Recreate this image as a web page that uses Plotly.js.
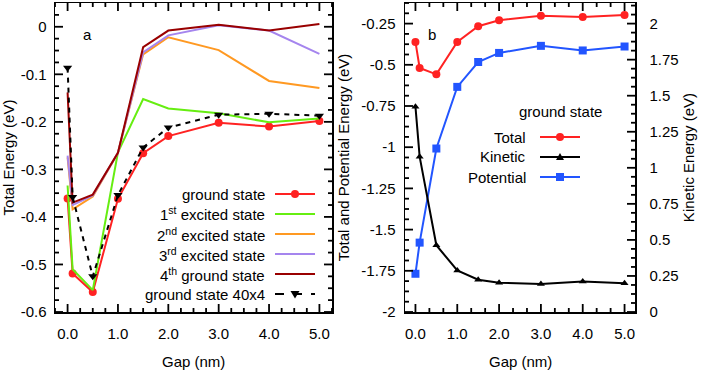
<!DOCTYPE html>
<html>
<head>
<meta charset="utf-8">
<script src="https://cdn.plot.ly/plotly-3.0.1.min.js"></script>
<style>
  html, body { margin: 0; padding: 0; background: #fff; }
  #plot { width: 702px; height: 371px; }
</style>
</head>
<body>
<div id="plot"></div>
<script>
// gap values (nm) shared by every series
const gap = [0, 0.1, 0.5, 1, 1.5, 2, 3, 4, 5];

// panel a: total energy (eV)
const groundState = [-0.361, -0.519, -0.558, -0.362, -0.266, -0.230, -0.202, -0.210, -0.198];
const excited1 = [-0.334, -0.510, -0.554, -0.264, -0.152, -0.172, -0.182, -0.201, -0.193];
const excited2 = [-0.275, -0.384, -0.357, -0.265, -0.058, -0.022, -0.049, -0.114, -0.129];
const excited3 = [-0.271, -0.375, -0.355, -0.265, -0.054, -0.018, 0.003, -0.008, -0.057];
const ground4th = [-0.138, -0.370, -0.353, -0.265, -0.043, -0.008, 0.004, -0.008, 0.006];
const ground40x4 = [-0.086, -0.358, -0.525, -0.354, -0.254, -0.212, -0.185, -0.183, -0.187];

// panel b: ground state split (eV)
const totalE = groundState;
const kineticE = [1.424, 1.077, 0.463, 0.288, 0.224, 0.203, 0.194, 0.212, 0.200];
const potentialE = [-1.768, -1.579, -1.008, -0.634, -0.483, -0.428, -0.385, -0.413, -0.389];

// tick labels
const xTicks = [0, 1, 2, 3, 4, 5];
const xTickText = ['0.0', '1.0', '2.0', '3.0', '4.0', '5.0'];
const yaTicks = [0, -0.1, -0.2, -0.3, -0.4, -0.5, -0.6];
const yaTickText = ['0', '-0.1', '-0.2', '-0.3', '-0.4', '-0.5', '-0.6'];
const ybTicks = [-0.25, -0.5, -0.75, -1, -1.25, -1.5, -1.75, -2];
const ybTickText = ['-0.25', '-0.5', '-0.75', '-1', '-1.25', '-1.5', '-1.75', '-2'];
const ykTicks = [0, 0.25, 0.5, 0.75, 1, 1.25, 1.5, 1.75, 2];
const ykTickText = ['0', '0.25', '0.5', '0.75', '1', '1.25', '1.5', '1.75', '2'];

const legendA = ['ground state', '1<sup>st</sup> excited state', '2<sup>nd</sup> excited state',
  '3<sup>rd</sup> excited state', '4<sup>th</sup> ground state', 'ground state 40x4'];
const legendB = ['Total', 'Kinetic', 'Potential'];

const RED = '#ff2222';
const GREEN = '#66ee11';
const ORANGE = '#ff9922';
const PURPLE = '#a585ee';
const MAROON = '#990000';
const BLUE = '#2255ff';

const FONT = 'Liberation Sans, Arial, sans-serif';
const W = 702;
const H = 371;

const seriesA = [
  { y: groundState, color: RED, dash: 'solid', symbol: 'circle', size: 8 },
  { y: excited1, color: GREEN, dash: 'solid', symbol: null, size: 0 },
  { y: excited2, color: ORANGE, dash: 'solid', symbol: null, size: 0 },
  { y: excited3, color: PURPLE, dash: 'solid', symbol: null, size: 0 },
  { y: ground4th, color: MAROON, dash: 'solid', symbol: null, size: 0 },
  { y: ground40x4, color: '#000', dash: '5px,5px', symbol: 'triangle-down', size: 8 }
];

const seriesB = [
  { y: totalE, color: RED, symbol: 'circle', size: 8, yaxis: 'y2' },
  { y: kineticE, color: '#000', symbol: 'triangle-up', size: 7, yaxis: 'y3' },
  { y: potentialE, color: BLUE, symbol: 'square', size: 8, yaxis: 'y2' }
];

const traces = [];
seriesA.forEach((s, i) => {
  traces.push({
    type: 'scatter',
    x: gap,
    y: s.y,
    xaxis: 'x',
    yaxis: 'y',
    mode: s.symbol ? 'lines+markers' : 'lines',
    name: legendA[i],
    line: { color: s.color, width: 2, dash: s.dash },
    marker: { symbol: s.symbol || 'circle', size: s.size, color: s.color },
    showlegend: false
  });
});
seriesB.forEach((s, i) => {
  traces.push({
    type: 'scatter',
    x: gap,
    y: s.y,
    xaxis: 'x2',
    yaxis: s.yaxis,
    mode: 'lines+markers',
    name: legendB[i],
    line: { color: s.color, width: 2 },
    marker: { symbol: s.symbol, size: s.size, color: s.color },
    showlegend: false
  });
});

// pixel positions -> paper fractions
const px = (v) => v / W;
const py = (v) => 1 - v / H;
const annotations = [];
const shapes = [];

// hand-made legends: text on the left, sample on the right
const markerPaths = {
  'triangle-down': 'M-4.5,3 L4.5,3 L0,-4.5 Z',
  'triangle-up': 'M-4,-3 L4,-3 L0,4 Z'
};
function legendRow (label, s, textRight, sampleLeft, sampleRight, rowY) {
  const mid = (sampleLeft + sampleRight) / 2;
  shapes.push({
    type: 'line', xref: 'paper', yref: 'paper',
    x0: px(sampleLeft), x1: px(sampleRight), y0: py(rowY), y1: py(rowY),
    line: { color: s.color, width: 2, dash: s.dash === 'solid' || !s.dash ? 'solid' : 'dash' }
  });
  if (s.symbol) {
    const base = {
      xref: 'paper', yref: 'paper', xsizemode: 'pixel', ysizemode: 'pixel',
      xanchor: px(mid), yanchor: py(rowY), fillcolor: s.color, line: { width: 0 }
    };
    if (s.symbol === 'circle') {
      shapes.push(Object.assign({ type: 'circle', x0: -4, x1: 4, y0: -4, y1: 4 }, base));
    } else if (s.symbol === 'square') {
      shapes.push(Object.assign({ type: 'rect', x0: -4, x1: 4, y0: -4, y1: 4 }, base));
    } else {
      shapes.push(Object.assign({ type: 'path', path: markerPaths[s.symbol] }, base));
    }
  }
  annotations.push({
    xref: 'paper', yref: 'paper', x: px(textRight), y: py(rowY),
    xanchor: 'right', yanchor: 'middle', showarrow: false,
    text: label, font: { family: FONT, size: 15, color: '#000' }
  });
}
seriesA.forEach((s, i) => legendRow(legendA[i], s, 267, 275, 315, 194 + i * 20));
seriesB.forEach((s, i) => legendRow(legendB[i], s, 528, 540, 580, 137 + i * 20));

const note = (text, x, y) => ({
  xref: 'paper', yref: 'paper', x: px(x), y: py(y), xanchor: 'center', yanchor: 'middle',
  showarrow: false, text: text, font: { family: FONT, size: 15, color: '#000' }
});
annotations.push(note('ground state', 560, 112), note('a', 87, 34), note('b', 432, 34));
// x axis titles, placed by hand below the tick labels
annotations.push(note('Gap (nm)', 193.5, 361), note('Gap (nm)', 520, 361));

// panel frames (pixels) and axis ranges
const yDomain = [py(312), py(3)];
const domA = [px(55), px(332)];
const domB = [px(405), px(635)];
const xRange = [-0.25, 5.25];
const yaRange = [-0.6, 0.05];
const ybRange = [-2, -0.125];
const ykRange = [0, 1.875 * 8 / 7];

// inward tick marks on every side, drawn as line markers nudged half a length inside
const PLOT_H = 309;
const unitsPerPx = (rng, lenPx) => (rng[1] - rng[0]) / lenPx;
const steps = (from, to, step) => {
  const out = [];
  const n = Math.round((to - from) / step);
  for (let k = 0; k <= n; k++) out.push(from + k * step);
  return out;
};
function tickTrace (xaxis, yaxis, xs, ys, symbol, len) {
  traces.push({
    type: 'scatter', x: xs, y: ys, xaxis: xaxis, yaxis: yaxis, mode: 'markers',
    cliponaxis: false, hoverinfo: 'skip', showlegend: false,
    marker: { symbol: symbol, size: len / 1.4, color: '#000', line: { width: 1.8, color: '#000' } }
  });
}
function xTickMarks (xaxis, yaxis, yRng, vals, len) {
  const d = unitsPerPx(yRng, PLOT_H) * len / 2;
  tickTrace(xaxis, yaxis, vals, vals.map(() => yRng[0] + d), 'line-ns-open', len);
  tickTrace(xaxis, yaxis, vals, vals.map(() => yRng[1] - d), 'line-ns-open', len);
}
function yTickMarks (xaxis, yaxis, plotW, sides, vals, len) {
  const d = unitsPerPx(xRange, plotW) * len / 2;
  sides.forEach((side) => {
    const x = side < 0 ? xRange[0] + d : xRange[1] - d;
    tickTrace(xaxis, yaxis, vals.map(() => x), vals, 'line-ew-open', len);
  });
}
const MAJOR = 8;
const MINOR = 4;
// panel a
xTickMarks('x', 'y', yaRange, steps(0, 5, 1), MAJOR);
xTickMarks('x', 'y', yaRange, steps(-0.25, 5.25, 0.25).filter((v) => v % 1 !== 0), MINOR);
yTickMarks('x', 'y', 277, [-1, 1], steps(-0.6, 0, 0.1), MAJOR);
yTickMarks('x', 'y', 277, [-1, 1], steps(-0.575, 0.05, 0.025).filter((v, k) => k % 4 !== 3), MINOR);
// panel b
xTickMarks('x2', 'y2', ybRange, steps(0, 5, 1), MAJOR);
xTickMarks('x2', 'y2', ybRange, steps(0, 5, 1 / 3).filter((v, k) => k % 3 !== 0), MINOR);
yTickMarks('x2', 'y2', 230, [-1], steps(-2, -0.25, 0.25), MAJOR);
yTickMarks('x2', 'y2', 230, [-1], steps(-1.9375, -0.125, 0.0625).filter((v, k) => k % 4 !== 3), MINOR);
yTickMarks('x2', 'y3', 230, [1], steps(0, 2, 0.25), MAJOR);
yTickMarks('x2', 'y3', 230, [1], steps(0.0625, 2.125, 0.0625).filter((v, k) => k % 4 !== 3), MINOR);

const tickFont = { family: FONT, size: 15, color: '#000' };
const frame = {
  showline: true,
  linecolor: '#000',
  linewidth: 1.5,
  showgrid: false,
  zeroline: false,
  ticks: '',
  tickfont: tickFont,
  tickmode: 'array',
  fixedrange: true
};

const layout = {
  width: W,
  height: H,
  autosize: false,
  margin: { l: 0, r: 0, t: 0, b: 0 },
  paper_bgcolor: '#fff',
  plot_bgcolor: '#fff',
  showlegend: false,
  font: { family: FONT, size: 15, color: '#000' },
  xaxis: Object.assign({}, frame, {
    domain: domA,
    anchor: 'y',
    range: xRange,
    tickvals: xTicks,
    ticktext: xTickText,
    mirror: true,
    ticklabelstandoff: 7
  }),
  yaxis: Object.assign({}, frame, {
    domain: yDomain,
    anchor: 'x',
    range: yaRange,
    tickvals: yaTicks,
    ticktext: yaTickText,
    mirror: true,
    ticklabelstandoff: 4,
    title: { text: 'Total Energy (eV)', font: tickFont, standoff: 6 }
  }),
  xaxis2: Object.assign({}, frame, {
    domain: domB,
    anchor: 'y2',
    range: xRange,
    tickvals: xTicks,
    ticktext: xTickText,
    mirror: true,
    ticklabelstandoff: 7
  }),
  yaxis2: Object.assign({}, frame, {
    domain: yDomain,
    anchor: 'x2',
    range: ybRange,
    tickvals: ybTicks,
    ticktext: ybTickText,
    mirror: true,
    ticklabelstandoff: 5,
    title: { text: 'Total and Potential Energy (eV)', font: tickFont, standoff: 8 }
  }),
  yaxis3: Object.assign({}, frame, {
    domain: yDomain,
    anchor: 'x2',
    overlaying: 'y2',
    side: 'right',
    range: ykRange,
    tickvals: ykTicks,
    ticktext: ykTickText,
    ticklabelstandoff: 10,
    title: { text: 'Kinetic Energy (eV)', font: tickFont, standoff: 6 }
  }),
  shapes: shapes,
  annotations: annotations
};

Plotly.newPlot('plot', traces, layout, { displayModeBar: false, staticPlot: true });
</script>
</body>
</html>
